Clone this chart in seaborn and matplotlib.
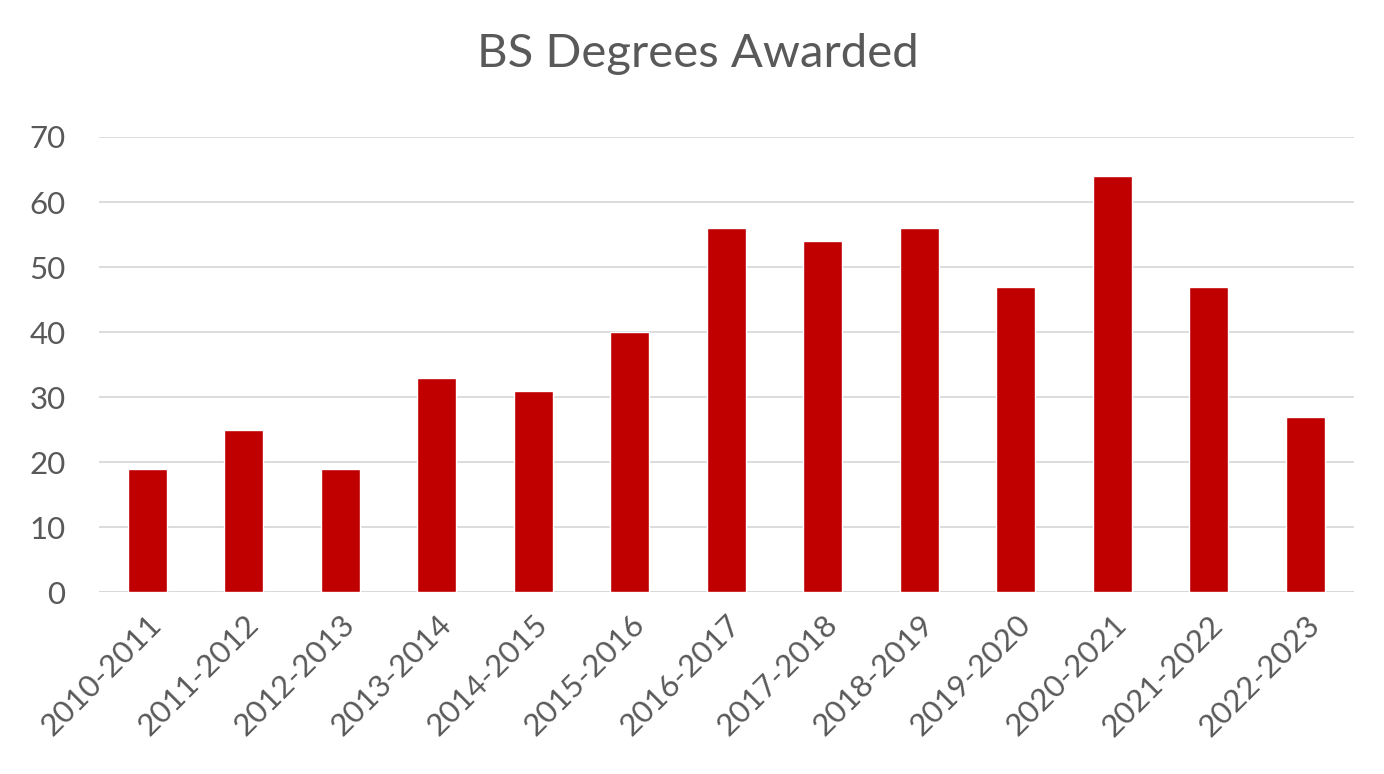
import matplotlib
import pandas as pd
import seaborn as sns
from matplotlib import pyplot as plt

# data
years = ["2010-2011", "2011-2012", "2012-2013", "2013-2014", "2014-2015",
         "2015-2016", "2016-2017", "2017-2018", "2018-2019", "2019-2020",
         "2020-2021", "2021-2022", "2022-2023"]
degrees = [19, 25, 19, 33, 31, 40, 56, 54, 56, 47, 64, 47, 27]

TEXT = "#595959"
BAR = "#C00000"
GRID = "#D9D9D9"


def main():
    sns.set_style("white")
    plt.rcParams['font.family'] = ['Lato', 'DejaVu Sans']

    df = pd.DataFrame({"year": years, "degrees": degrees})

    fig = plt.figure(figsize=(13.84, 7.74), dpi=100)
    ax = fig.add_axes([0.0715, 0.235, 0.9065, 0.588])

    sns.barplot(x="year", y="degrees", data=df, color=BAR, width=0.4,
                saturation=1, ax=ax, zorder=3)

    ax.set_ylim(0, 70)
    ax.set_yticks(range(0, 71, 10))
    ax.yaxis.grid(True, color=GRID, linewidth=1.3, zorder=0)
    ax.set_axisbelow(True)
    for side in ["top", "right", "left", "bottom"]:
        ax.spines[side].set_visible(False)
    ax.axhline(0, color=GRID, linewidth=1.5, zorder=1)

    ax.set_xlabel("")
    ax.set_ylabel("")
    ax.tick_params(axis="y", labelsize=22.5, colors=TEXT, length=0, pad=24)
    ax.tick_params(axis="x", labelsize=22.5, colors=TEXT, length=0, pad=13)
    plt.setp(ax.get_xticklabels(), rotation=45, ha="right",
             rotation_mode="anchor")

    fig.text(0.5045, 0.93, "BS Degrees Awarded", ha="center", va="center",
             fontsize=34, color=TEXT)

    plt.savefig("out.png", dpi=100)


if __name__ == "__main__":
    main()
